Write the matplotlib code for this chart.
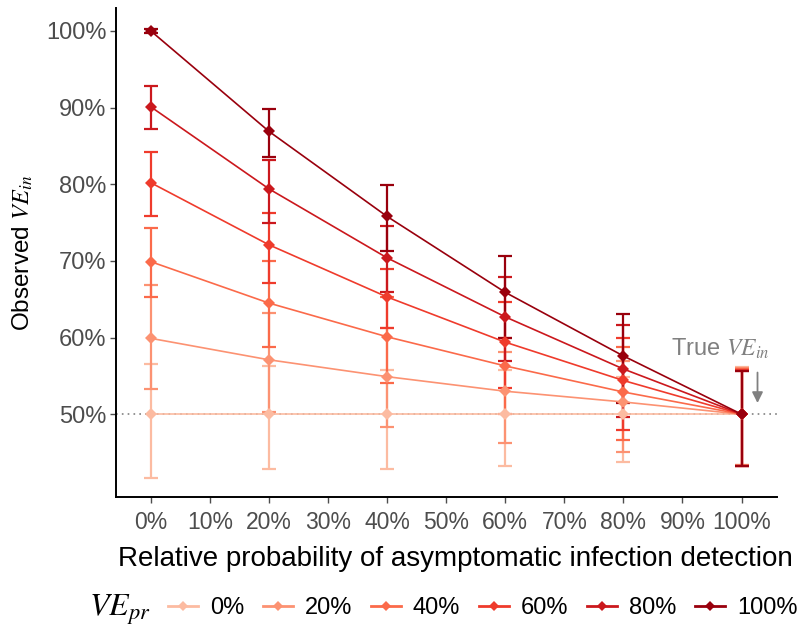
import matplotlib
matplotlib.use("Agg")
import matplotlib.pyplot as plt
from matplotlib.lines import Line2D
import numpy as np

plt.rcParams['font.family'] = ['Liberation Sans', 'DejaVu Sans']
plt.rcParams['mathtext.fontset'] = 'stix'

# ---- data ----
detect = [0, 20, 40, 60, 80, 100]
ve_pr_labels = ['0%', '20%', '40%', '60%', '80%', '100%']
colors = ['#FCBBA1', '#FC9272', '#FB6A4A', '#EF3B2C', '#CB181D', '#99000D']

obs_0 = [50.0, 50.0, 50.0, 50.0, 50.0, 50.0]
obs_20 = [59.9, 57.1, 54.9, 53.0, 51.6, 50.0]
obs_40 = [69.9, 64.5, 60.1, 56.3, 52.9, 50.0]
obs_60 = [80.2, 72.1, 65.3, 59.4, 54.4, 50.0]
obs_80 = [90.1, 79.4, 70.4, 62.7, 55.9, 50.0]
obs_100 = [100.0, 86.9, 75.8, 65.9, 57.6, 50.0]

low_0 = [41.7, 42.9, 42.8, 43.3, 43.8, 43.4]
low_20 = [53.3, 50.3, 48.3, 46.3, 45.1, 43.4]
low_40 = [65.3, 58.8, 54.1, 50.0, 46.6, 43.3]
low_60 = [75.8, 67.1, 61.2, 53.4, 47.9, 43.3]
low_80 = [87.2, 75.0, 66.0, 57.0, 49.6, 43.3]
low_100 = [99.7, 83.5, 71.3, 60.0, 51.4, 43.3]

up_0 = [56.5, 56.3, 55.8, 55.8, 54.9, 56.2]
up_20 = [66.8, 63.2, 61.3, 58.1, 57.0, 56.0]
up_40 = [74.3, 70.0, 65.3, 60.0, 58.8, 55.9]
up_60 = [84.2, 76.3, 69.0, 64.6, 60.0, 55.8]
up_80 = [92.8, 83.2, 74.5, 67.9, 61.6, 55.7]
up_100 = [100.3, 89.8, 79.9, 70.6, 63.1, 55.6]

observed = [obs_0, obs_20, obs_40, obs_60, obs_80, obs_100]
lowers = [low_0, low_20, low_40, low_60, low_80, low_100]
uppers = [up_0, up_20, up_40, up_60, up_80, up_100]

true_ve = 50
xticks = list(range(0, 101, 10))
yticks = [50, 60, 70, 80, 90, 100]

# ---- figure ----
fig = plt.figure(figsize=(8.12, 6.29), dpi=100)
ax = fig.add_axes([116/812, 1-497/629, (777-116)/812, (497-8)/629])

ax.axhline(true_ve, color='#808080', ls=(0, (1, 2.5)), lw=1.2, zorder=0)

for obs, lo, up, c in zip(observed, lowers, uppers, colors):
    obs = np.array(obs); lo = np.array(lo); up = np.array(up)
    ax.errorbar(detect, obs, yerr=[obs - lo, up - obs], fmt='none',
                ecolor=c, elinewidth=1.6, capsize=5, capthick=1.6, zorder=2)
    ax.plot(detect, obs, color=c, lw=1.2, marker='D', markersize=6,
            markeredgewidth=0, zorder=3)

ax.set_xlim(-5.9, 106)
ax.set_ylim(39.2, 103)
ax.set_xticks(xticks)
ax.set_xticklabels([f'{v}%' for v in xticks])
ax.set_yticks(yticks)
ax.set_yticklabels([f'{v}%' for v in yticks])
for s in ['top', 'right']:
    ax.spines[s].set_visible(False)
for s in ['left', 'bottom']:
    ax.spines[s].set_linewidth(1.4)
    ax.spines[s].set_color('black')
ax.tick_params(axis='both', labelsize=16.5, labelcolor='#4D4D4D', color='#4D4D4D',
               length=4, width=1.0)
ax.tick_params(axis='y', labelsize=17, pad=3)
ax.tick_params(axis='x', pad=6)

ax.set_xlabel('Relative probability of asymptomatic infection detection',
              fontsize=20, labelpad=7)
ax.xaxis.set_label_coords(0.514, -0.1)
ax.set_ylabel('Observed $VE_{in}$', fontsize=17.5, labelpad=8)

ax.text(96.4, 58.5, 'True $VE_{in}$', color='#808080', fontsize=17,
        ha='center', va='center')
ax.annotate('', xy=(102.7, 51.1), xytext=(102.7, 55.8),
            arrowprops=dict(arrowstyle='-|>', color='#808080', lw=1.3,
                            mutation_scale=16))

handles = [Line2D([0], [0], color=c, lw=2, marker='D', markersize=5,
                  markeredgewidth=0) for c in colors]
fig.text(120/812, 1-610/629, '$VE_{pr}$', fontsize=23, ha='center', va='center')
fig.legend(handles, ve_pr_labels, loc='center left',
           bbox_to_anchor=(168/812, 1-608/629), ncol=6, frameon=False,
           fontsize=17, handlelength=1.27, handletextpad=0.5,
           columnspacing=0.8, borderpad=0, borderaxespad=0)

fig.savefig('out.png', dpi=100)
